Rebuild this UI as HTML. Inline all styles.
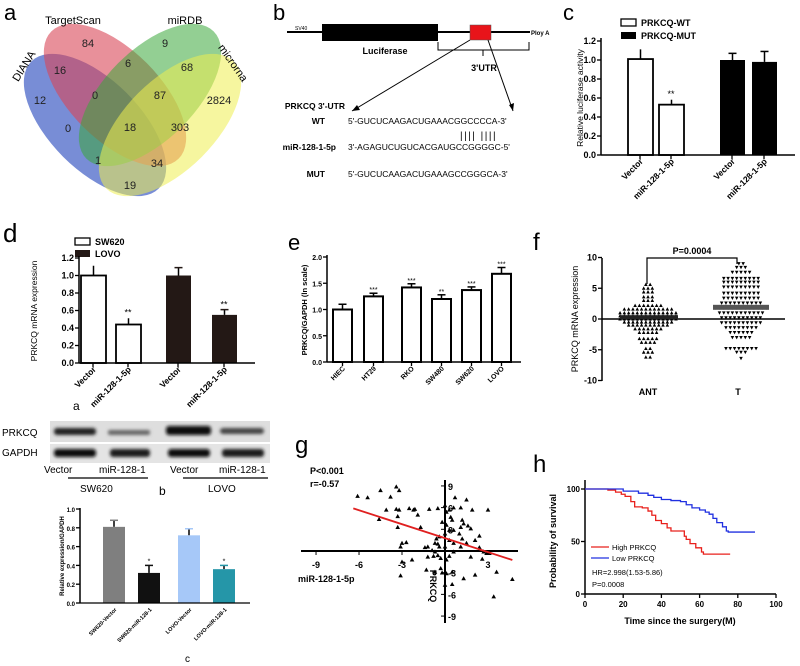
<!DOCTYPE html>
<html><head><meta charset="utf-8"><style>
html,body{margin:0;padding:0;background:#fff}
svg{display:block;font-family:"Liberation Sans",Arial,sans-serif}
.t{font-size:9px;font-weight:bold}
.s{font-size:10px}
.L{font-size:22px}
</style></head><body>
<svg id="fig" width="800" height="666" viewBox="0 0 800 666" xmlns="http://www.w3.org/2000/svg">
<defs><filter id="bl" x="-20%" y="-50%" width="140%" height="200%"><feGaussianBlur stdDeviation="1.6"/></filter></defs>
<rect width="800" height="666" fill="#fff"/>
<g>
<text class="L" x="4" y="20">a</text>
<ellipse cx="95" cy="125" rx="90" ry="45" transform="rotate(45 95 125)" fill="#3f5cc4" opacity="0.7"/>
<ellipse cx="115" cy="95" rx="90" ry="45" transform="rotate(45 115 95)" fill="#d84656" opacity="0.6"/>
<ellipse cx="150" cy="95" rx="90" ry="45" transform="rotate(-45 150 95)" fill="#3aa83a" opacity="0.55"/>
<ellipse cx="170" cy="125" rx="90" ry="45" transform="rotate(-45 170 125)" fill="#eeee50" opacity="0.55"/>
<g font-size="11" text-anchor="middle" fill="#222">
<text x="88" y="47">84</text><text x="60" y="74">16</text><text x="128" y="67">6</text><text x="165" y="47">9</text>
<text x="187" y="71">68</text><text x="95" y="99">0</text><text x="160" y="99">87</text><text x="219" y="104">2824</text>
<text x="40" y="104">12</text><text x="68" y="132">0</text><text x="130" y="131">18</text><text x="180" y="131">303</text>
<text x="98" y="164">1</text><text x="157" y="167">34</text><text x="130" y="189">19</text></g>
<text x="73" y="24" font-size="11" text-anchor="middle">TargetScan</text>
<text x="185" y="24" font-size="11" text-anchor="middle">miRDB</text>
<text x="0" y="0" font-size="11" text-anchor="middle" transform="translate(27,68) rotate(-58)">DIANA</text>
<text x="0" y="0" font-size="11" text-anchor="middle" transform="translate(230,65) rotate(55)">microrna</text>
</g>
<g>
<text class="L" x="273" y="20">b</text>
<line x1="287" y1="32" x2="530" y2="32" stroke="#000" stroke-width="2"/>
<text x="295" y="30" font-size="5">SV40</text>
<rect x="322" y="24" width="116" height="17" fill="#000"/>
<rect x="470" y="25" width="21" height="15" fill="#e8141a" stroke="#555" stroke-width="0.5"/>
<text x="531" y="35" font-size="6" font-weight="bold">Ploy A</text>
<text x="385" y="54" font-size="9" font-weight="bold" text-anchor="middle">Luciferase</text>
<path d="M438 42 V50 H529 V42 M483 50 V56" fill="none" stroke="#000" stroke-width="1"/>
<text x="484" y="71" font-size="9" font-weight="bold" text-anchor="middle">3'UTR</text>
<line x1="470" y1="40" x2="352" y2="111" stroke="#000" stroke-width="1"/>
<path d="M352 111 l8 -1 l-3 -5z" fill="#000"/>
<line x1="488" y1="40" x2="513" y2="111" stroke="#000" stroke-width="1"/>
<path d="M513 111 l1 -8 l-5 2z" fill="#000"/>
<g font-size="8.5">
<text x="345" y="109" text-anchor="end" font-weight="bold">PRKCQ 3'-UTR</text>
<text x="325" y="124" text-anchor="end" font-weight="bold">WT</text>
<text x="348" y="124">5'-GUCUCAAGACUGAAACGGCCCCA-3'</text>
<text x="460" y="139" font-size="10" letter-spacing="1.5">|||| ||||</text>
<text x="336" y="150" text-anchor="end" font-weight="bold">miR-128-1-5p</text>
<text x="348" y="150">3'-AGAGUCUGUCACGAUGCCGGGGC-5'</text>
<text x="325" y="177" text-anchor="end" font-weight="bold">MUT</text>
<text x="348" y="177">5'-GUCUCAAGACUGAAAGCCGGGCA-3'</text>
</g></g>
<g id="pc">
<text class="L" x="563" y="20">c</text>
<rect x="621" y="19" width="15" height="7" fill="#fff" stroke="#000" stroke-width="1.3"/>
<text x="641" y="26" class="t" font-size="9.5">PRKCQ-WT</text>
<rect x="621" y="32" width="15" height="7" fill="#000"/>
<text x="641" y="39" class="t" font-size="9.5">PRKCQ-MUT</text>
<text transform="translate(583,98) rotate(-90)" text-anchor="middle" font-size="8.5">Relative luciferase activity</text>
</g>
<g id="pd">
<text x="3" y="242" font-size="26">d</text>
<rect x="75" y="238" width="15" height="7" fill="#fff" stroke="#000" stroke-width="1.3"/>
<text x="95" y="245" class="t" font-size="9.5">SW620</text>
<rect x="75" y="250" width="15" height="7" fill="#231815"/>
<text x="95" y="257" class="t" font-size="9.5">LOVO</text>
<text transform="translate(37,311) rotate(-90)" text-anchor="middle" font-size="8.5">PRKCQ mRNA expression</text>
<text x="73" y="410" font-size="12">a</text>
</g>
<g id="pe">
<text class="L" x="288" y="250" font-size="24">e</text>
<text transform="translate(307,310) rotate(-90)" text-anchor="middle" font-size="7.5" font-weight="bold">PRKCQ/GAPDH (ln scale)</text>
</g>
<g id="pf">
<text x="533" y="250" font-size="24">f</text>
<text transform="translate(578,319) rotate(-90)" text-anchor="middle" font-size="9">PRKCQ mRNA expression</text>
<path d="M647 284 V258 H737 V264" fill="none" stroke="#000" stroke-width="1.2"/>
<text x="692" y="254" text-anchor="middle" class="t" font-size="9">P=0.0004</text>
<text x="648" y="395" text-anchor="middle" class="t" font-size="10">ANT</text>
<text x="738" y="395" text-anchor="middle" class="t" font-size="10">T</text>
</g>
<g>
<text x="2" y="436" font-size="10">PRKCQ</text>
<text x="2" y="456" font-size="10">GAPDH</text>
<rect x="50" y="421" width="220" height="21" fill="#dedede"/>
<rect x="50" y="444" width="220" height="19" fill="#e4e4e4"/>
<g filter="url(#bl)">
<rect x="54" y="428" width="42" height="7" rx="3" fill="#222"/>
<rect x="108" y="430" width="42" height="5" rx="2" fill="#666"/>
<rect x="166" y="426" width="45" height="9" rx="3" fill="#111"/>
<rect x="220" y="428" width="44" height="6" rx="3" fill="#444"/>
<rect x="54" y="449" width="42" height="8" rx="3" fill="#111"/>
<rect x="110" y="449" width="40" height="8" rx="3" fill="#1a1a1a"/>
<rect x="168" y="449" width="42" height="8" rx="3" fill="#111"/>
<rect x="222" y="449" width="42" height="8" rx="3" fill="#1a1a1a"/>
</g>
<g font-size="10">
<text x="44" y="473">Vector</text><text x="99" y="473">miR-128-1</text>
<text x="170" y="473">Vector</text><text x="219" y="473">miR-128-1</text>
<line x1="68" y1="478" x2="148" y2="478" stroke="#000" stroke-width="1.2"/>
<line x1="183" y1="478" x2="268" y2="478" stroke="#000" stroke-width="1.2"/>
<text x="80" y="492">SW620</text><text x="208" y="492">LOVO</text>
<text x="159" y="495" font-size="12">b</text></g>
</g>
<g id="pcc">
<text transform="translate(64,556) rotate(-90)" text-anchor="middle" font-size="6" font-weight="bold">Relative expression/GAPDH</text>
<text x="185" y="662" font-size="10">c</text>
</g>
<g id="pg">
<text x="295" y="453" font-size="24">g</text>
<text x="310" y="474" class="t" font-size="10">P&lt;0.001</text>
<text x="310" y="487" class="t" font-size="10">r=-0.57</text>
<text x="298" y="582" class="t" font-size="10.5">miR-128-1-5p</text>
<text transform="translate(430,586) rotate(90)" text-anchor="middle" class="t" font-size="10.5">PRKCQ</text>
</g>
<g id="ph">
<text x="533" y="472" font-size="24">h</text>
<text transform="translate(556,541) rotate(-90)" text-anchor="middle" class="t" font-size="9">Probability of survival</text>
<text x="680" y="624" text-anchor="middle" class="t" font-size="9">Time since the surgery(M)</text>
<text x="612" y="550" font-size="7.5">High PRKCQ</text>
<text x="612" y="561" font-size="7.5">Low PRKCQ</text>
<text x="592" y="575" font-size="7.5">HR=2.998(1.53-5.86)</text>
<text x="592" y="587" font-size="7.5">P=0.0008</text>
</g>
</svg>
<script>
const cCats=["Vector","miR-128-1-5p","Vector","miR-128-1-5p"];
const cVals=[1.01,0.53,1.0,0.98];
const cErr=[0.11,0.06,0.07,0.11];
const cTicks=[0,0.2,0.4,0.6,0.8,1.0,1.2];
const dCats=["Vector","miR-128-1-5p","Vector","miR-128-1-5p"];
const dVals=[1.0,0.44,1.0,0.55];
const dErr=[0.12,0.08,0.09,0.06];
const dTicks=[0,0.2,0.4,0.6,0.8,1.0,1.2];
const eCats=["HIEC","HT29","RKO","SW480","SW620","LOVO"];
const eVals=[1.0,1.25,1.42,1.2,1.37,1.68];
const eErr=[0.1,0.06,0.07,0.08,0.06,0.12];
const eStars=["","***","***","**","***","***"];
const eTicks=[0,0.5,1.0,1.5,2.0];
const fTicks=[-10,-5,0,5,10];
const antLevels=[5.6,5.0,4.4,3.6,3.0,2.2,1.6,1.0,0.5,0,-0.5,-1.0,-1.6,-2.2,-3.2,-3.8,-4.8,-5.4,-6.2];
const antCounts=[2,3,3,3,3,7,12,14,14,14,12,10,7,5,5,4,2,3,2];
const tLevels=[9.0,8.4,7.6,6.6,6.0,5.2,4.2,3.4,2.6,1.8,1.0,0.2,-0.6,-1.4,-2.2,-3.0,-4.8,-5.4,-6.4];
const tCounts=[2,3,5,9,9,9,9,9,10,13,11,10,10,8,6,5,8,3,1];
const antMean=0.3, tMean=1.9;
const ccCats=["SW620-Vector","SW620-miR-128-1","LOVO-Vector","LOVO-miR-128-1"];
const ccVals=[0.81,0.32,0.72,0.36];
const ccErr=[0.07,0.08,0.07,0.04];
const ccTicks=[0,0.2,0.4,0.6,0.8,1.0];
const gX=[-6.1,-5.4,-4.5,-3.8,-3.4,-3.2,-4.1,-3.4,-3.2,-3.3,-2.5,-2.2,-2.1,-1.9,-4.6,-3.3,-1.7,-3.0,-2.7,-3.1,-1.1,-0.5,0.0,0.6,0.7,1.1,1.5,1.9,3.0,0.3,0.4,0.5,-0.2,0.1,0.3,0.6,1.1,1.2,1.3,1.6,1.8,1.0,1.2,-0.4,-0.6,-0.7,-1.2,-0.9,-0.7,-0.4,0.0,0.3,0.6,1.5,2.1,2.4,2.4,2.7,2.9,3.1,-1.2,-0.8,-0.5,-0.3,0.1,0.3,0.6,1.1,1.8,2.6,-2.3,-3.0,-1.3,-0.7,-0.3,-0.2,0.1,0.5,1.3,2.1,3.6,4.7,3.4,0.0,0.5,-3.1,0.1,0.0,-0.5,-1.4];
const gY=[7.6,7.4,8.4,7.5,8.9,8.4,5.7,5.8,5.7,4.8,5.9,5.7,5.8,5.0,4.4,3.3,3.3,1.1,1.2,0.6,5.8,5.9,6.3,6.0,7.4,6.0,7.1,5.7,5.7,5.7,4.7,4.3,4.0,3.6,2.9,2.9,3.3,4.3,3.8,3.5,3.1,2.4,1.7,2.0,1.7,1.1,0.6,0.1,-0.1,0.6,0.6,1.5,1.1,1.1,1.5,2.1,0.5,-0.1,-0.3,-0.3,-0.8,-0.7,-0.6,-1.0,-1.2,-0.7,-0.1,0.6,-0.8,-1.1,-1.2,-1.5,-2.6,-2.9,-2.4,-3.0,-3.1,-2.9,-3.8,-3.3,-2.9,-3.9,-6.3,-4.7,-4.6,-3.4,5.4,2.4,1.0,0.5];
const gTicksX=[-9,-6,-3,3];
const gTicksY=[9,6,3,-3,-6,-9];
const gFitSlope=-0.643, gFitIntercept=1.78, gFitRange=[-6.4,4.7];
const hHighT=[0,12,16,19,21,24,26,30,33,35,37,40,43,45,50,52,53,55,58,61,62,76];
const hHighS=[100,99,97,95,93,88,83,82,79,75,70,67,63,60,60,55,52,48,44,40,38,38];
const hLowT=[0,18,20,28,33,36,40,45,50,53,56,60,63,65,67,69,72,74,75,89];
const hLowS=[100,100,98,96,94,92,90,89,88,85,82,80,78,76,72,68,64,60,59,59];
const hTicksX=[0,20,40,60,80,100];
const hTicksY=[0,50,100];

const NS="http://www.w3.org/2000/svg";
function mk(parent,tag,attrs,txt){const e=document.createElementNS(NS,tag);for(const k in attrs)e.setAttribute(k,attrs[k]);if(txt!=null)e.textContent=txt;parent.appendChild(e);return e;}

function yAxis(g,x,y0,y1,ticks,yf,fmt,fs){
  const ax=mk(g,'line',{x1:x,y1:y0,x2:x,y2:y1,stroke:'#000','stroke-width':1.5});
  
  
  ticks.forEach(v=>{
    const y=yf(v);
    mk(g,'line',{x1:x-4,y1:y,x2:x,y2:y,stroke:'#000','stroke-width':1.3});
    const t=mk(g,'text',{x:x-5,y:y+3,'text-anchor':'end','font-size':fs,'font-weight':'bold'},fmt(v));
    
    
  });
}
function bars(g,xs,w,vals,errs,yf,fills,cats,axisY,fs,stroke){
  vals.forEach((v,i)=>{
    const x=xs[i],yt=yf(v),ye=yf(v+errs[i]);
    mk(g,'line',{x1:x+w/2,y1:yt,x2:x+w/2,y2:ye,stroke:stroke||'#000','stroke-width':1.5});
    mk(g,'line',{x1:x+w/2-4,y1:ye,x2:x+w/2+4,y2:ye,stroke:stroke||fills[i],'stroke-width':1.5});
    const r=mk(g,'rect',{x:x,y:yt,width:w,height:axisY-yt,fill:fills[i],stroke:stroke||'none','stroke-width':stroke?2:0});
    
    
    const t=mk(g,'text',{transform:`translate(${x+w/2+3},${axisY+7}) rotate(-45)`,'text-anchor':'end','font-size':fs,'font-weight':'bold'},cats[i]);
    
    
  });
}
(function(){const g=document.getElementById('pc');const yf=v=>155-v*95;
 yAxis(g,601,155,38,cTicks,yf,v=>v.toFixed(1),9);
 bars(g,[628,659,720,752],25,cVals,cErr,yf,['#fff','#fff','#000','#000'],cCats,155,8.5,null);
 g.querySelectorAll('rect[fill="#fff"]').forEach(r=>{if(r.getAttribute('width')==25){r.setAttribute('stroke','#000');r.setAttribute('stroke-width',1.8);}});
 mk(g,'line',{x1:601,y1:155,x2:795,y2:155,stroke:'#000','stroke-width':1.5});
 [640,671,732,764].forEach(x=>mk(g,'line',{x1:x,y1:155,x2:x,y2:159,stroke:'#000','stroke-width':1.3}));
 const s=mk(g,'text',{x:671,y:yf(cVals[1]+cErr[1])-2,'text-anchor':'middle','font-size':9},'**');
 
 
})();
(function(){const g=document.getElementById('pd');const yf=v=>363-v*87.5;
 yAxis(g,79,363,256,dTicks,yf,v=>v.toFixed(1),9);
 bars(g,[81,116,166,212],25,dVals,dErr,yf,['#fff','#fff','#231815','#231815'],dCats,363,8.5,null);
 g.querySelectorAll('rect[fill="#fff"]').forEach(r=>{if(r.getAttribute('width')==25){r.setAttribute('stroke','#000');r.setAttribute('stroke-width',1.8);}});
 mk(g,'line',{x1:79,y1:363,x2:255,y2:363,stroke:'#000','stroke-width':1.5});
 [93,128,178,224].forEach(x=>mk(g,'line',{x1:x,y1:363,x2:x,y2:367,stroke:'#000','stroke-width':1.3}));
 [1,3].forEach(i=>{const s=mk(g,'text',{x:[93,128,178,224][i],y:yf(dVals[i]+dErr[i])-2,'text-anchor':'middle','font-size':9},'**');
  
  });
})();
(function(){const g=document.getElementById('pe');const yf=v=>362-v*52.5;
 yAxis(g,327,362,255,eTicks,yf,v=>v.toFixed(1),7);
 const xs=[333,364,402,432,462,492];
 bars(g,xs,19,eVals,eErr,yf,['#fff','#fff','#fff','#fff','#fff','#fff'],eCats,362,7,'#000');
 mk(g,'line',{x1:327,y1:362,x2:521,y2:362,stroke:'#000','stroke-width':1.5});
 xs.forEach((x,i)=>{mk(g,'line',{x1:x+9.5,y1:362,x2:x+9.5,y2:366,stroke:'#000','stroke-width':1.3});
  if(eStars[i]){const s=mk(g,'text',{x:x+9.5,y:yf(eVals[i]+eErr[i])-1,'text-anchor':'middle','font-size':7},eStars[i]);
  
  }});
})();
(function(){const g=document.getElementById('pf');const yf=v=>319-v*6.15;
 yAxis(g,602,381,258,fTicks,yf,v=>String(v),9);
 mk(g,'line',{x1:602,y1:319,x2:785,y2:319,stroke:'#000','stroke-width':1.5});
 function swarm(levels,counts,cx,up,name){
  levels.forEach((lv,i)=>{const n=counts[i],y=yf(lv);
   for(let k=0;k<n;k++){const x=cx+(k-(n-1)/2)*4.3;
    const d=up?`M${x} ${y-1.9} L${x+1.8} ${y+1.5} L${x-1.8} ${y+1.5}Z`:`M${x} ${y+1.9} L${x+1.8} ${y-1.5} L${x-1.8} ${y-1.5}Z`;
    const p=mk(g,'path',{d:d,fill:'#000'});
    
    }});
 }
 swarm(antLevels,antCounts,648,true,'point-ant');
 swarm(tLevels,tCounts,741,false,'point-t');
 const m1=mk(g,'rect',{x:620,y:yf(antMean)-2,width:58,height:4,fill:'#222'});
 
 
 const m2=mk(g,'rect',{x:713,y:yf(tMean)-2.5,width:56,height:5,fill:'#555'});
 
 
})();
(function(){const g=document.getElementById('pcc');const yf=v=>603-v*94;
 yAxis(g,80,603,508,ccTicks,yf,v=>v.toFixed(1),6);
 const xs=[103,138,178,213];
 bars(g,xs,22,ccVals,ccErr,yf,['#7f7f7f','#111','#a6c8f8','#2596a8'],ccCats,603,5.5,null);
 mk(g,'line',{x1:80,y1:603,x2:250,y2:603,stroke:'#000','stroke-width':1.3});
 [1,3].forEach(i=>{const s=mk(g,'text',{x:xs[i]+11,y:yf(ccVals[i]+ccErr[i])-2,'text-anchor':'middle','font-size':7},'*');
  
  });
})();
(function(){const g=document.getElementById('pg');const gx=v=>445+v*14.33,gy=v=>551-v*7.23;
 const xa=mk(g,'line',{x1:301,y1:551,x2:518,y2:551,stroke:'#000','stroke-width':2});
 
 
 const ya=mk(g,'line',{x1:445,y1:480,x2:445,y2:623,stroke:'#000','stroke-width':2});
 
 
 gTicksX.forEach(v=>{mk(g,'line',{x1:gx(v),y1:551,x2:gx(v),y2:555,stroke:'#000'});
  const t=mk(g,'text',{x:gx(v),y:568,'text-anchor':'middle',class:'t','font-size':10},String(v));
  
  });
 gTicksY.forEach(v=>{mk(g,'line',{x1:441,y1:gy(v),x2:445,y2:gy(v),stroke:'#000'});
  const t=mk(g,'text',{x:448,y:gy(v)+4,class:'t','font-size':10},String(v));
  
  });
 gX.forEach((xv,i)=>{const x=gx(xv),y=gy(gY[i]);
  const p=mk(g,'path',{d:`M${x} ${y-2.3} L${x+2.3} ${y+1.8} L${x-2.3} ${y+1.8}Z`,fill:'#000'});
  
  });
 const f=mk(g,'line',{x1:gx(gFitRange[0]),y1:gy(gFitIntercept+gFitSlope*gFitRange[0]),x2:gx(gFitRange[1]),y2:gy(gFitIntercept+gFitSlope*gFitRange[1]),stroke:'#e02020','stroke-width':1.8});
 
 
})();
(function(){const g=document.getElementById('ph');const hx=t=>585+t*1.91,hy=s=>594-s*1.05;
 yAxis(g,585,594,480,hTicksY,hy,v=>String(v),8);
 mk(g,'line',{x1:585,y1:594,x2:776,y2:594,stroke:'#000','stroke-width':1.5});
 hTicksX.forEach(v=>{mk(g,'line',{x1:hx(v),y1:594,x2:hx(v),y2:598,stroke:'#000','stroke-width':1.3});
  const t=mk(g,'text',{x:hx(v),y:607,'text-anchor':'middle','font-size':8,'font-weight':'bold'},String(v));
  
  });
 function km(T,S,col,name){let d=`M${hx(T[0])} ${hy(S[0])}`;
  for(let i=1;i<T.length;i++){d+=` H${hx(T[i])} V${hy(S[i])}`;}
  const p=mk(g,'path',{d:d,fill:'none',stroke:col,'stroke-width':1.3});
  
  }
 km(hHighT,hHighS,'#e8201c','km-curve-high');
 km(hLowT,hLowS,'#2030e0','km-curve-low');
 const l1=mk(g,'line',{x1:591,y1:547,x2:609,y2:547,stroke:'#e8201c','stroke-width':1.3});
 
 
 const l2=mk(g,'line',{x1:591,y1:558,x2:609,y2:558,stroke:'#2030e0','stroke-width':1.3});
 
 
})();
</script>
</body></html>
